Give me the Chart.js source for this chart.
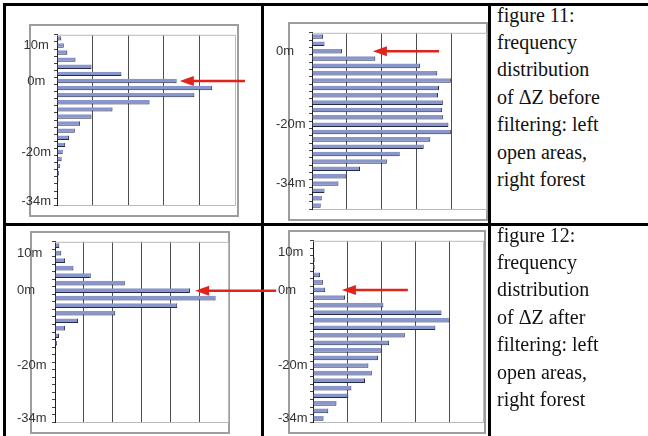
<!DOCTYPE html>
<html>
<head>
<meta charset="utf-8">
<title>Distribution de fréquence ΔZ</title>
<script src="https://cdn.jsdelivr.net/npm/chart.js@4.4.1/dist/chart.umd.min.js"></script>
<style>
    html, body { margin: 0; padding: 0; background: #fff; }
    body { width: 648px; height: 436px; position: relative; overflow: hidden; }
    .trait { position: absolute; background: #000; }
    .cadre { position: absolute; border: 2px solid #9d9d9d; box-sizing: border-box; }
    canvas { position: absolute; }
    .legende {
        position: absolute; left: 497px; width: 150px;
        font-family: 'Liberation Serif', 'Times New Roman', serif;
        font-size: 20px; line-height: 27.4px; color: #111;
    }
</style>
</head>
<body>

<!-- Le tableau -->
<div class="trait" style="left:3px;top:3px;width:645px;height:3px"></div>
<div class="trait" style="left:3px;top:3px;width:3px;height:433px"></div>
<div class="trait" style="left:261px;top:3px;width:3px;height:433px"></div>
<div class="trait" style="left:488px;top:3px;width:3px;height:433px"></div>
<div class="trait" style="left:3px;top:223px;width:645px;height:3px"></div>

<!-- Les cadres gris -->
<div class="cadre" style="left:29px;top:24px;width:210px;height:193px"></div>
<div class="cadre" style="left:288px;top:22px;width:200px;height:199px"></div>
<div class="cadre" style="left:30px;top:231px;width:200px;height:203px"></div>
<div class="cadre" style="left:288px;top:230px;width:198px;height:204px"></div>

<canvas id="chartAvantOuvert" width="230" height="192" style="left:20px;top:24px"></canvas>
<canvas id="chartAvantForet" width="212" height="198" style="left:276px;top:22px"></canvas>
<canvas id="chartApresOuvert" width="263" height="202" style="left:17px;top:231px"></canvas>
<canvas id="chartApresForet" width="210" height="203" style="left:278px;top:230px"></canvas>

<div class="legende" style="top:1.5px">figure 11:<br>frequency<br>distribution<br>of ΔZ before<br>filtering: left<br>open areas,<br>right forest</div>
<div class="legende" style="top:221.5px">figure 12:<br>frequency<br>distribution<br>of ΔZ after<br>filtering: left<br>open areas,<br>right forest</div>

<script>
//! Les données.

// Classes de ΔZ (m), pas de 2 m.
const classesOuvert = ['12', '10', '8', '6', '4', '2', '0', '-2', '-4', '-6', '-8', '-10',
    '-12', '-14', '-16', '-18', '-20', '-22', '-24', '-26', '-28', '-30', '-32', '-34'];
const classesForet = ['4', '2', '0', '-2', '-4', '-6', '-8', '-10', '-12', '-14', '-16', '-18',
    '-20', '-22', '-24', '-26', '-28', '-30', '-32', '-34', '-36', '-38', '-40', '-42'];

// Libellés affichés sur l'axe vertical.
const etiquettesOuvert = ['', '10m', '', '', '', '', '0m', '', '', '', '', '',
    '', '', '', '', '-20m', '', '', '', '', '', '', '-34m'];
const etiquettesForet = ['', '', '0m', '', '', '', '', '', '', '', '', '',
    '-20m', '', '', '', '', '', '', '', '-34m', '', '', ''];

// Fréquences (en unités de grille).
const avantOuvert = [0.12, 0.19, 0.29, 0.52, 0.97, 1.81, 3.36, 4.36, 3.86, 2.60, 1.56, 0.97,
    0.65, 0.50, 0.34, 0.23, 0.16, 0.13, 0.08, 0.06, 0.04, 0.03, 0.02, 0.02];
const avantForet = [0.32, 0.36, 0.86, 1.82, 3.10, 3.60, 3.99, 3.65, 3.62, 3.76, 3.74, 3.76,
    3.92, 3.99, 3.40, 3.21, 2.52, 2.15, 1.38, 0.99, 0.76, 0.36, 0.28, 0.25];
const apresOuvert = [0.15, 0.22, 0.35, 0.64, 1.24, 2.42, 4.68, 5.57, 4.24, 2.09, 0.80, 0.35,
    0.14, 0.07, 0.04, 0.02, 0.01, 0, 0, 0, 0, 0, 0, 0];
const apresForet = [0, 0, 0.05, 0.05, 0.21, 0.29, 0.36, 0.94, 2.07, 3.78, 4.02, 3.60,
    2.70, 2.24, 2.02, 1.91, 1.63, 1.73, 1.53, 1.13, 1.04, 0.69, 0.45, 0.31];

//! --------------------------------------------------

//? Plugin : bord du graphique + flèche rouge.

const cadrePlugin = {
    id: 'cadreGris',
    beforeDatasetsDraw(chart) {
        const { ctx, chartArea: a } = chart;
        ctx.save();
        ctx.strokeStyle = '#b9b9b9';
        ctx.lineWidth = 1;
        ctx.beginPath();
        ctx.moveTo(a.left, a.top + 0.5);
        ctx.lineTo(a.right, a.top + 0.5);
        ctx.stroke();
        ctx.restore();
    },
};

const flechePlugin = {
    id: 'fleche',
    afterDraw(chart, args, opts) {
        if (opts.index === undefined) return;
        const { ctx, scales: { x, y } } = chart;
        const yy = y.getPixelForValue(opts.index);
        const pointe = x.getPixelForValue(opts.pointe);
        const queue = x.getPixelForValue(opts.queue);
        ctx.save();
        ctx.strokeStyle = '#e2231a';
        ctx.fillStyle = '#e2231a';
        ctx.lineWidth = 2.5;
        ctx.beginPath();
        ctx.moveTo(queue, yy);
        ctx.lineTo(pointe + 10, yy);
        ctx.stroke();
        ctx.beginPath();
        ctx.moveTo(pointe, yy);
        ctx.lineTo(pointe + 14, yy - 5);
        ctx.lineTo(pointe + 14, yy + 5);
        ctx.closePath();
        ctx.fill();
        ctx.restore();
    },
};

//? -------------------------------------------------

//? Construction d'un graphique.

const construireGraphique = (p) => {
    const ctx = document.getElementById(p.id).getContext('2d');

    const data = {
        labels: p.classes,
        datasets: [
            {
                data: p.valeurs,
                backgroundColor: '#8896cc',
                borderColor: '#252a4a',
                borderWidth: { top: 0, left: 0, right: 1, bottom: 1 },
                borderSkipped: false,
                barPercentage: 0.62,
                categoryPercentage: 1,
            },
        ],
    };

    const options = {
        indexAxis: 'y',
        responsive: false,
        animation: false,
        layout: { padding: { left: 0, right: p.padDroite, top: p.padHaut, bottom: p.padBas } },
        plugins: {
            legend: { display: false },
            tooltip: { enabled: false },
            fleche: p.fleche,
        },
        scales: {
            x: {
                min: 0,
                max: p.max,
                afterFit: (s) => { s.height = 0; },
                ticks: { display: false, stepSize: 1 },
                grid: {
                    drawTicks: false,
                    lineWidth: 1,
                    color: (c) => {
                        if (c.tick.value === 0) return 'rgba(0,0,0,0)';
                        if (c.tick.value === p.max) return '#b9b9b9';
                        return '#4d4d4d';
                    },
                },
                border: { color: '#b9b9b9', width: 1 },
            },
            y: {
                afterFit: (s) => { s.width = p.largeurAxe; },
                grid: { drawOnChartArea: false, drawTicks: true, tickLength: 3, color: '#444', offset: true },
                border: { color: '#1c1c1c', width: 1 },
                ticks: {
                    autoSkip: false,
                    padding: 3,
                    crossAlign: p.alignement,
                    color: '#333',
                    font: { family: "'Liberation Sans', Arial, sans-serif", size: 13 },
                    callback: (v, i) => p.etiquettes[i],
                },
            },
        },
    };

    new Chart(ctx, { type: 'bar', data, options, plugins: [cadrePlugin, flechePlugin] });
    console.log('🟢 SUCCESS ==> Construction graphique', p.id);
};

//! --------------------------------------------------

const graphiques = [
    {
        id: 'chartAvantOuvert', classes: classesOuvert, etiquettes: etiquettesOuvert, valeurs: avantOuvert,
        max: 5, largeurAxe: 37, padDroite: 15, padHaut: 7, padBas: 7, alignement: 'center',
        fleche: { index: 6, pointe: 3.45, queue: 5.28 },
    },
    {
        id: 'chartAvantForet', classes: classesForet, etiquettes: etiquettesForet, valeurs: avantForet,
        max: 5, largeurAxe: 36, padDroite: 2, padHaut: 6, padBas: 7, alignement: 'far',
        fleche: { index: 2, pointe: 1.75, queue: 3.65 },
    },
    {
        id: 'chartApresOuvert', classes: classesOuvert, etiquettes: etiquettesOuvert, valeurs: apresOuvert,
        max: 6, largeurAxe: 38, padDroite: 52, padHaut: 6, padBas: 8, alignement: 'far',
        fleche: { index: 6, pointe: 4.86, queue: 7.67 },
    },
    {
        id: 'chartApresForet', classes: classesOuvert, etiquettes: etiquettesOuvert, valeurs: apresForet,
        max: 5, largeurAxe: 35, padDroite: 5, padHaut: 7, padBas: 8, alignement: 'far',
        fleche: { index: 6, pointe: 0.85, queue: 2.79 },
    },
];

try {
    graphiques.forEach(construireGraphique);
} catch (err) {
    console.log('🔺 ERREUR ==> Construction graphiques', err);
}
</script>
</body>
</html>
